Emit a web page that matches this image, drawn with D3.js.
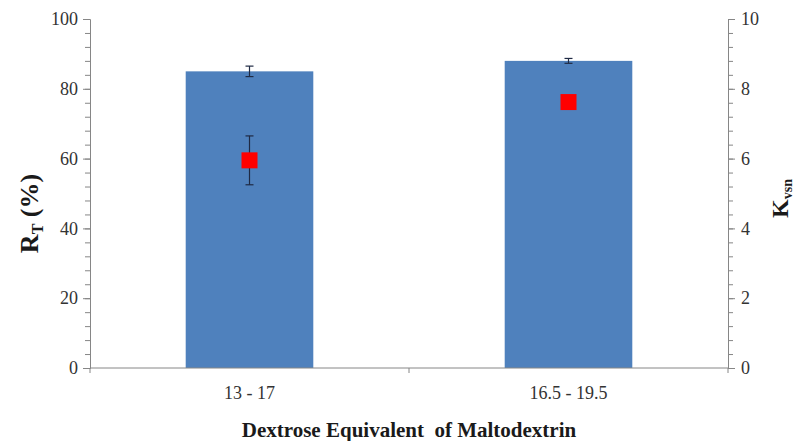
<!DOCTYPE html>
<html>
<head>
<meta charset="utf-8">
<script src="https://cdn.jsdelivr.net/npm/d3@7"></script>
<style>
  body { margin: 0; background: #fff; }
</style>
</head>
<body>
<div id="chart"></div>
<script>
const categories = ["13 - 17", "16.5 - 19.5"];
const rtValues = [85, 88];
const rtErrors = [1.5, 0.7];
const kvsnValues = [5.95, 7.62];
const kvsnErrors = [0.7, 0.1];
const leftTicks = [0, 20, 40, 60, 80, 100];
const rightTicks = [0, 2, 4, 6, 8, 10];

const margin = {top: 19, right: 68, bottom: 73, left: 90},
    width = 796 - margin.left - margin.right,
    height = 441 - margin.top - margin.bottom;

const axisColor = "#868686";
const serif = "Liberation Serif";

const svg = d3.select("#chart")
    .append("svg")
    .attr("width", 796)
    .attr("height", 441)
    .append("g")
    .attr("transform", `translate(${margin.left}, ${margin.top})`);

const x = d3.scaleBand()
    .domain(categories)
    .range([0, width])
    .paddingInner(0.6)
    .paddingOuter(0.3);

const yl = d3.scaleLinear().domain([0, 100]).range([height, 0]);
const yr = d3.scaleLinear().domain([0, 10]).range([height, 0]);

// minor ticks
svg.append("g")
    .call(d3.axisLeft(yl).tickValues(d3.range(0, 101, 4)).tickSize(5).tickFormat(""))
    .call(g => g.select(".domain").remove())
    .selectAll("line").attr("stroke", axisColor);
svg.append("g")
    .attr("transform", `translate(${width},0)`)
    .call(d3.axisRight(yr).tickValues(d3.range(0, 10.01, 0.4)).tickSize(5).tickFormat(""))
    .call(g => g.select(".domain").remove())
    .selectAll("line").attr("stroke", axisColor);

// bars
svg.selectAll("rect.bar")
    .data(rtValues)
    .join("rect")
    .attr("class", "bar")
    .attr("x", (d, i) => x(categories[i]))
    .attr("width", x.bandwidth())
    .attr("y", d => yl(d))
    .attr("height", d => height - yl(d))
    .attr("fill", "#4f81bd");

// bar error bars
const cap = 4;
rtValues.forEach((v, i) => {
    const cx = x(categories[i]) + x.bandwidth() / 2;
    const g = svg.append("g").attr("stroke", "#1f2a44").attr("stroke-width", 1.2);
    g.append("line").attr("x1", cx).attr("x2", cx).attr("y1", yl(v - rtErrors[i])).attr("y2", yl(v + rtErrors[i]));
    g.append("line").attr("x1", cx - cap).attr("x2", cx + cap).attr("y1", yl(v + rtErrors[i])).attr("y2", yl(v + rtErrors[i]));
    g.append("line").attr("x1", cx - cap).attr("x2", cx + cap).attr("y1", yl(v - rtErrors[i])).attr("y2", yl(v - rtErrors[i]));
});

// kvsn error bars + markers
kvsnValues.forEach((v, i) => {
    const cx = x(categories[i]) + x.bandwidth() / 2;
    const g = svg.append("g").attr("stroke", "#1f2a44").attr("stroke-width", 1.2);
    g.append("line").attr("x1", cx).attr("x2", cx).attr("y1", yr(v - kvsnErrors[i])).attr("y2", yr(v + kvsnErrors[i]));
    g.append("line").attr("x1", cx - cap).attr("x2", cx + cap).attr("y1", yr(v + kvsnErrors[i])).attr("y2", yr(v + kvsnErrors[i]));
    g.append("line").attr("x1", cx - cap).attr("x2", cx + cap).attr("y1", yr(v - kvsnErrors[i])).attr("y2", yr(v - kvsnErrors[i]));
    svg.append("rect")
        .attr("x", cx - 8)
        .attr("y", yr(v) - 8)
        .attr("width", 16)
        .attr("height", 16)
        .attr("fill", "#ff0000");
});

// major axes
svg.append("g")
    .call(d3.axisLeft(yl).tickValues(leftTicks).tickSize(7).tickPadding(5))
    .call(g => g.select(".domain").attr("stroke", axisColor))
    .call(g => g.selectAll("line").attr("stroke", axisColor))
    .call(g => g.selectAll("text").attr("fill", "#333")
        .attr("font-family", serif).attr("font-size", 18));

svg.append("g")
    .attr("transform", `translate(${width},0)`)
    .call(d3.axisRight(yr).tickValues(rightTicks).tickSize(7).tickPadding(6))
    .call(g => g.select(".domain").attr("stroke", axisColor))
    .call(g => g.selectAll("line").attr("stroke", axisColor))
    .call(g => g.selectAll("text").attr("fill", "#333")
        .attr("font-family", serif).attr("font-size", 18));

// x axis
const xg = svg.append("g").attr("transform", `translate(0,${height})`);
xg.append("line").attr("x1", 0).attr("x2", width).attr("stroke", axisColor);
[0, width / 2, width].forEach(t => {
    xg.append("line").attr("x1", t).attr("x2", t).attr("y1", 0).attr("y2", 5).attr("stroke", axisColor);
});
xg.selectAll("text.cat")
    .data(categories)
    .join("text")
    .attr("class", "cat")
    .attr("x", d => x(d) + x.bandwidth() / 2)
    .attr("y", 31)
    .attr("text-anchor", "middle")
    .attr("font-family", serif)
    .attr("font-size", 18)
    .attr("fill", "#333")
    .text(d => d);

// titles
svg.append("text")
    .attr("x", width / 2)
    .attr("y", height + 69)
    .attr("text-anchor", "middle")
    .attr("font-family", serif)
    .attr("font-size", 21)
    .attr("font-weight", "bold")
    .attr("fill", "#1a1a1a")
    .attr("xml:space", "preserve")
    .text("Dextrose Equivalent  of Maltodextrin");

const lt = svg.append("text")
    .attr("transform", `translate(${-52},${height / 2 + 20}) rotate(-90)`)
    .attr("text-anchor", "middle")
    .attr("font-family", serif)
    .attr("font-size", 26)
    .attr("font-weight", "bold")
    .attr("fill", "#1a1a1a");
lt.append("tspan").text("R");
lt.append("tspan").attr("font-size", 16).attr("dy", 5).text("T");
lt.append("tspan").attr("dy", -5).text(" (%)");

const rt = svg.append("text")
    .attr("transform", `translate(${width + 60},${height / 2 + 5}) rotate(-90)`)
    .attr("text-anchor", "middle")
    .attr("font-family", serif)
    .attr("font-size", 24)
    .attr("font-weight", "bold")
    .attr("fill", "#1a1a1a");
rt.append("tspan").text("K");
rt.append("tspan").attr("font-size", 14).attr("dy", 4).text("vsn");
</script>
</body>
</html>
